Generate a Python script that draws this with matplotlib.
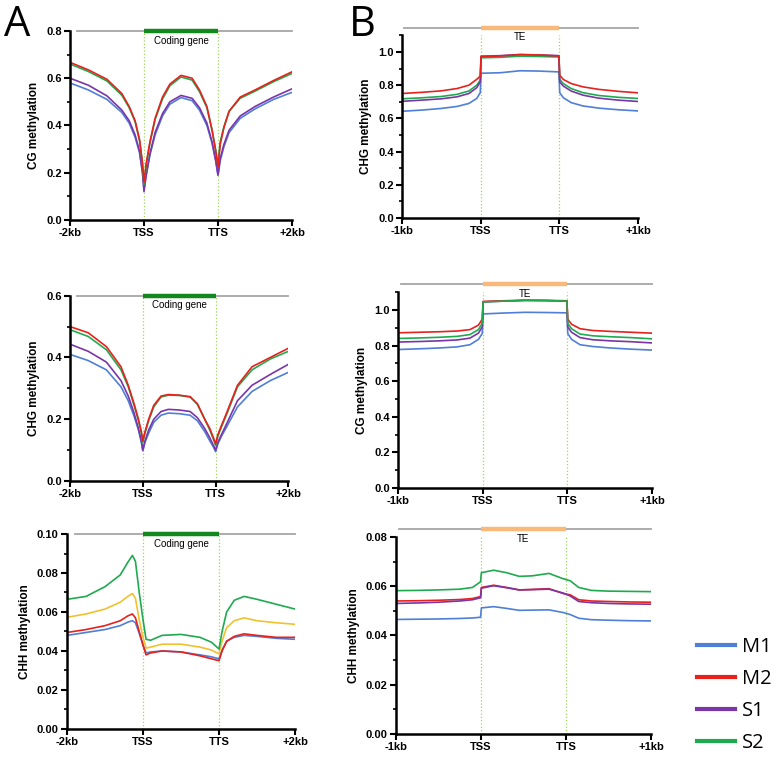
import matplotlib
matplotlib.use("Agg")
import matplotlib.pyplot as plt
from matplotlib.ticker import MultipleLocator
from matplotlib.lines import Line2D

plt.rcParams["font.family"] = ["Liberation Sans", "DejaVu Sans"]

# ── Data ─────────────────────────────────────────────────────────────────────

GENE_TICKS = ["-2kb", "TSS", "TTS", "+2kb"]
TE_TICKS = ["-1kb", "TSS", "TTS", "+1kb"]
SAMPLES = ["M1", "M2", "S1", "S2"]

# gene body, CG / CHG
x_gene = [0, 0.25, 0.5, 0.7, 0.8, 0.88, 0.94, 0.98, 1.0, 1.03, 1.08, 1.15, 1.25, 1.35,
          1.5, 1.65, 1.75, 1.85, 1.92, 1.97, 2.0, 2.03, 2.08, 2.15, 2.3, 2.5, 2.75, 3.0]

cg_gene_m1 = [0.58, 0.55, 0.51, 0.455, 0.41, 0.35, 0.285, 0.2, 0.13, 0.19, 0.275, 0.36, 0.44, 0.49,
              0.518, 0.505, 0.465, 0.40, 0.325, 0.25, 0.19, 0.25, 0.31, 0.37, 0.43, 0.47, 0.51, 0.54]
cg_gene_m2 = [0.667, 0.635, 0.595, 0.535, 0.48, 0.42, 0.34, 0.24, 0.16, 0.24, 0.33, 0.43, 0.52, 0.575,
              0.612, 0.60, 0.55, 0.48, 0.38, 0.29, 0.225, 0.32, 0.39, 0.46, 0.52, 0.55, 0.59, 0.627]
cg_gene_s1 = [0.60, 0.57, 0.525, 0.465, 0.42, 0.36, 0.29, 0.2, 0.12, 0.19, 0.28, 0.37, 0.45, 0.50,
              0.527, 0.515, 0.475, 0.41, 0.33, 0.25, 0.19, 0.26, 0.32, 0.38, 0.44, 0.48, 0.52, 0.555]
cg_gene_s2 = [0.66, 0.628, 0.588, 0.528, 0.475, 0.415, 0.335, 0.235, 0.15, 0.23, 0.325, 0.425, 0.512, 0.568,
              0.605, 0.592, 0.543, 0.475, 0.38, 0.295, 0.23, 0.33, 0.395, 0.46, 0.515, 0.545, 0.585, 0.62]

chg_gene_m1 = [0.41, 0.39, 0.36, 0.305, 0.26, 0.21, 0.165, 0.125, 0.098, 0.125, 0.155, 0.19, 0.213, 0.22,
               0.218, 0.213, 0.195, 0.16, 0.13, 0.11, 0.095, 0.12, 0.145, 0.175, 0.24, 0.29, 0.325, 0.352]
chg_gene_m2 = [0.50, 0.48, 0.435, 0.37, 0.31, 0.25, 0.2, 0.16, 0.13, 0.16, 0.2, 0.245, 0.275, 0.28,
               0.278, 0.273, 0.25, 0.2, 0.17, 0.14, 0.12, 0.15, 0.18, 0.22, 0.31, 0.37, 0.40, 0.43]
chg_gene_s1 = [0.443, 0.42, 0.385, 0.325, 0.275, 0.22, 0.17, 0.13, 0.1, 0.13, 0.165, 0.2, 0.225, 0.232,
               0.23, 0.225, 0.205, 0.17, 0.14, 0.115, 0.1, 0.125, 0.15, 0.185, 0.26, 0.31, 0.345, 0.378]
chg_gene_s2 = [0.49, 0.468, 0.425, 0.36, 0.305, 0.245, 0.195, 0.155, 0.125, 0.155, 0.195, 0.24, 0.272, 0.278,
               0.277, 0.272, 0.248, 0.2, 0.165, 0.135, 0.115, 0.145, 0.175, 0.215, 0.305, 0.36, 0.395, 0.42]

# gene body, CHH (this panel uses blue / red / yellow / green)
x_gene_chh = [0, 0.25, 0.5, 0.7, 0.8, 0.86, 0.9, 0.95, 1.0, 1.04, 1.1, 1.25, 1.5, 1.75,
              1.9, 2.0, 2.04, 2.1, 2.2, 2.33, 2.5, 2.75, 3.0]
chh_gene_blue = [0.048, 0.0495, 0.051, 0.053, 0.0548, 0.0555, 0.0545, 0.049, 0.043, 0.039, 0.0395, 0.040,
                 0.0395, 0.038, 0.037, 0.036, 0.0405, 0.045, 0.047, 0.048, 0.0475, 0.0465, 0.046]
chh_gene_red = [0.0495, 0.051, 0.053, 0.0555, 0.058, 0.059, 0.057, 0.05, 0.043, 0.038, 0.039, 0.040,
                0.0395, 0.0375, 0.036, 0.035, 0.040, 0.045, 0.0475, 0.0488, 0.048, 0.047, 0.047]
chh_gene_yellow = [0.0573, 0.059, 0.0615, 0.065, 0.068, 0.0695, 0.067, 0.056, 0.047, 0.0415, 0.042, 0.0435,
                   0.0435, 0.042, 0.0405, 0.0385, 0.045, 0.052, 0.0555, 0.057, 0.0555, 0.0545, 0.0537]
chh_gene_green = [0.0665, 0.068, 0.073, 0.079, 0.0855, 0.089, 0.086, 0.07, 0.056, 0.046, 0.0455, 0.048,
                  0.0485, 0.047, 0.0445, 0.041, 0.05, 0.06, 0.066, 0.068, 0.0665, 0.064, 0.0615]

# transposable elements, CHG / CG
x_te = [0, 0.25, 0.5, 0.7, 0.85, 0.95, 0.995, 1.005, 1.25, 1.5, 1.75, 1.995, 2.005, 2.05,
        2.15, 2.3, 2.5, 2.75, 3.0]

chg_te_m1 = [0.643, 0.65, 0.66, 0.672, 0.69, 0.72, 0.755, 0.872, 0.875, 0.887, 0.885, 0.88, 0.755, 0.725,
             0.695, 0.675, 0.662, 0.652, 0.645]
chg_te_m2 = [0.75, 0.757, 0.766, 0.78, 0.80, 0.835, 0.855, 0.972, 0.976, 0.984, 0.982, 0.976, 0.86, 0.835,
             0.81, 0.79, 0.775, 0.763, 0.754]
chg_te_s1 = [0.703, 0.71, 0.718, 0.73, 0.75, 0.785, 0.82, 0.975, 0.978, 0.985, 0.982, 0.978, 0.82, 0.795,
             0.765, 0.74, 0.722, 0.71, 0.702]
chg_te_s2 = [0.718, 0.724, 0.732, 0.745, 0.765, 0.80, 0.83, 0.965, 0.968, 0.975, 0.973, 0.97, 0.835, 0.81,
             0.78, 0.755, 0.738, 0.727, 0.72]

cg_te_m1 = [0.778, 0.782, 0.787, 0.793, 0.805, 0.835, 0.868, 0.978, 0.983, 0.987, 0.986, 0.984, 0.868, 0.835,
            0.805, 0.795, 0.787, 0.78, 0.775]
cg_te_m2 = [0.872, 0.875, 0.878, 0.882, 0.89, 0.915, 0.948, 1.048, 1.052, 1.055, 1.054, 1.052, 0.948, 0.92,
            0.895, 0.885, 0.88, 0.875, 0.87]
cg_te_s1 = [0.82, 0.823, 0.827, 0.832, 0.842, 0.87, 0.905, 1.046, 1.05, 1.054, 1.053, 1.05, 0.905, 0.875,
            0.845, 0.833, 0.827, 0.822, 0.815]
cg_te_s2 = [0.84, 0.843, 0.847, 0.852, 0.862, 0.89, 0.925, 1.045, 1.05, 1.054, 1.053, 1.05, 0.925, 0.895,
            0.865, 0.855, 0.85, 0.845, 0.838]

# transposable elements, CHH
x_te_chh = [0, 0.25, 0.5, 0.75, 0.9, 0.995, 1.005, 1.15, 1.3, 1.45, 1.6, 1.8, 1.97, 2.05,
            2.15, 2.3, 2.5, 2.75, 3.0]
chh_te_m1 = [0.0465, 0.0466, 0.0467, 0.0469, 0.0471, 0.0474, 0.0512, 0.0517, 0.051, 0.0502, 0.0503, 0.0504,
             0.0493, 0.0485, 0.047, 0.0464, 0.0462, 0.046, 0.0459]
chh_te_m2 = [0.054, 0.0541, 0.0543, 0.0546, 0.055, 0.0558, 0.0595, 0.0604, 0.0595, 0.0585, 0.0587, 0.059,
             0.057, 0.0565, 0.0545, 0.054, 0.0538, 0.0536, 0.0535]
chh_te_s1 = [0.053, 0.0532, 0.0535, 0.054, 0.0545, 0.0553, 0.0592, 0.0602, 0.0594, 0.0585, 0.0586, 0.0588,
             0.0572, 0.056, 0.0538, 0.0533, 0.053, 0.0528, 0.0527]
chh_te_s2 = [0.0582, 0.0583, 0.0585, 0.0588, 0.0595, 0.0618, 0.0655, 0.0665, 0.0655, 0.064, 0.0642, 0.0652,
             0.063, 0.0622, 0.0595, 0.0583, 0.058, 0.0579, 0.0578]

# ── Styling ──────────────────────────────────────────────────────────────────

BLUE = "#4f7fd6"
RED = "#e8211d"
PURPLE = "#7a35a8"
GREEN = "#1faa50"
YELLOW = "#f2c12e"
SAMPLE_COLORS = [BLUE, RED, PURPLE, GREEN]
VLINE = "#9fd65a"
BAR_GRAY = "#a6a6a6"


def draw_panel(ax, x, series, colors, ylim, major, minor, ylabel, xlabels,
               bar_color, bar_text, bar_y, bar_x0):
    for y, c in zip(series, colors):
        ax.plot(x, y, color=c, lw=1.2)

    ax.set_xlim(0, 3)
    ax.set_ylim(*ylim)
    ax.yaxis.set_major_locator(MultipleLocator(major))
    ax.yaxis.set_minor_locator(MultipleLocator(minor))
    ax.set_xticks([0, 1, 2, 3])
    ax.set_xticklabels(xlabels, fontweight="bold", fontsize=8)
    for lbl in ax.get_yticklabels():
        lbl.set_fontweight("bold")
        lbl.set_fontsize(8)
    ax.set_ylabel(ylabel, fontweight="bold", fontsize=8.5)

    for side in ("top", "right"):
        ax.spines[side].set_visible(False)
    for side in ("left", "bottom"):
        ax.spines[side].set_linewidth(1.8)
    ax.tick_params(which="major", length=4, width=1.5, pad=2)
    ax.tick_params(which="minor", length=2.5, width=1.2)
    ax.tick_params(axis="x", which="minor", length=0)

    # TSS / TTS guides
    for xv in (1, 2):
        ax.axvline(xv, color=VLINE, lw=0.9, ls=":", zorder=0)

    # feature bar on top
    ax.plot([bar_x0, 3], [bar_y, bar_y], color=BAR_GRAY, lw=1.3, clip_on=False)
    ax.plot([1, 2], [bar_y, bar_y], color=bar_color, lw=3.2, clip_on=False,
            solid_capstyle="butt")
    ax.text(1.5, bar_y - (ylim[1] - ylim[0]) * 0.025, bar_text, ha="center", va="top",
            fontsize=7)


fig = plt.figure(figsize=(7.83, 7.58), dpi=100)

ax_a1 = fig.add_axes([0.0894, 0.7098, 0.2835, 0.2494])
ax_a2 = fig.add_axes([0.0894, 0.3654, 0.2790, 0.2445])
ax_a3 = fig.add_axes([0.0856, 0.0383, 0.2912, 0.2572])
ax_b1 = fig.add_axes([0.5134, 0.7124, 0.3014, 0.2409])
ax_b2 = fig.add_axes([0.5083, 0.3562, 0.3244, 0.2583])
ax_b3 = fig.add_axes([0.5057, 0.0317, 0.3257, 0.2599])

draw_panel(ax_a1, x_gene, [cg_gene_m1, cg_gene_s1, cg_gene_s2, cg_gene_m2],
           [BLUE, PURPLE, GREEN, RED], (0, 0.8), 0.2, 0.1, "CG methylation",
           GENE_TICKS, "#12881e", "Coding gene", 0.8, 0.1)
draw_panel(ax_a2, x_gene, [chg_gene_m1, chg_gene_s1, chg_gene_s2, chg_gene_m2],
           [BLUE, PURPLE, GREEN, RED], (0, 0.6), 0.2, 0.1, "CHG methylation",
           GENE_TICKS, "#12881e", "Coding gene", 0.6, 0.1)
draw_panel(ax_a3, x_gene_chh, [chh_gene_blue, chh_gene_red, chh_gene_yellow, chh_gene_green],
           [BLUE, RED, YELLOW, GREEN], (0, 0.10), 0.02, 0.01, "CHH methylation",
           GENE_TICKS, "#12881e", "Coding gene", 0.10, 0.1)

draw_panel(ax_b1, x_te, [chg_te_m1, chg_te_s2, chg_te_s1, chg_te_m2],
           [BLUE, GREEN, PURPLE, RED], (0, 1.1), 0.2, 0.1, "CHG methylation",
           TE_TICKS, "#f9b97a", "TE", 1.145, 0.03)
draw_panel(ax_b2, x_te, [cg_te_m1, cg_te_s1, cg_te_m2, cg_te_s2],
           [BLUE, PURPLE, RED, GREEN], (0, 1.1), 0.2, 0.1, "CG methylation",
           TE_TICKS, "#f9b97a", "TE", 1.146, 0.03)
draw_panel(ax_b3, x_te_chh, [chh_te_m1, chh_te_m2, chh_te_s1, chh_te_s2],
           [BLUE, RED, PURPLE, GREEN], (0, 0.08), 0.02, 0.01, "CHH methylation",
           TE_TICKS, "#f9b97a", "TE", 0.0832, 0.03)

# panel letters
fig.text(0.005, 0.995, "A", fontsize=30, family=["Open Sans", "DejaVu Sans"], va="top")
fig.text(0.445, 0.995, "B", fontsize=30, family=["Open Sans", "DejaVu Sans"], va="top")

# legend
handles = [Line2D([], [], color=c, lw=3) for c in SAMPLE_COLORS]
fig.legend(handles, SAMPLES, loc="center left", bbox_to_anchor=(0.872, 0.083),
           frameon=False, handlelength=1.9, handletextpad=0.35, labelspacing=0.6,
           borderaxespad=0.3, prop={"family": ["Open Sans", "DejaVu Sans"], "size": 14.5})

fig.savefig("out.png", dpi=100)
